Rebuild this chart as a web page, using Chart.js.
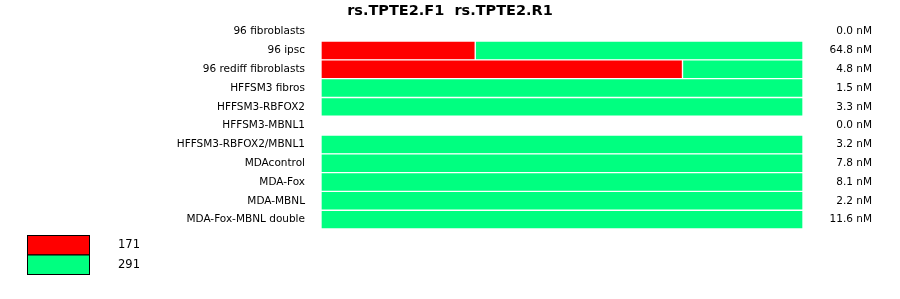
<!DOCTYPE html>
<html>
<head>
<meta charset="utf-8">
<script src="https://cdn.jsdelivr.net/npm/chart.js@4/dist/chart.umd.min.js"></script>
<style>
  html, body { margin: 0; padding: 0; background: #fff; }
  #wrap { width: 900px; height: 299px; }
</style>
</head>
<body>
<div id="wrap"><canvas id="myChart" width="900" height="299"></canvas></div>
<script>
const samples = [
    '96 fibroblasts',
    '96 ipsc',
    '96 rediff fibroblasts',
    'HFFSM3 fibros',
    'HFFSM3-RBFOX2',
    'HFFSM3-MBNL1',
    'HFFSM3-RBFOX2/MBNL1',
    'MDAcontrol',
    'MDA-Fox',
    'MDA-MBNL',
    'MDA-Fox-MBNL double'
];

// percent of reads per sample
const redShare = [0, 32, 75, 0, 0, 0, 0, 0, 0, 0, 0];
const greenShare = [0, 68, 25, 100, 100, 0, 100, 100, 100, 100, 100];

const concLabels = ['0.0 nM', '64.8 nM', '4.8 nM', '1.5 nM', '3.3 nM', '0.0 nM',
    '3.2 nM', '7.8 nM', '8.1 nM', '2.2 nM', '11.6 nM'];

const titleText = 'rs.TPTE2.F1  rs.TPTE2.R1';
const legendColors = ['rgb(255,0,0)', 'rgb(0,255,128)'];
const legendCounts = ['171', '291'];

const fontName = '"DejaVu Sans", sans-serif';

// title centred on the whole image, not the plot
const topTitle = {
    id: 'topTitle',
    afterDraw(chart) {
        const ctx = chart.ctx;
        ctx.save();
        ctx.font = 'bold 14.5px ' + fontName;
        ctx.fillStyle = '#000';
        ctx.textAlign = 'center';
        ctx.textBaseline = 'middle';
        ctx.fillText(titleText, 450, 11);
        ctx.restore();
    }
};

// right column with the nM values
const concPlugin = {
    id: 'concLabels',
    afterDraw(chart) {
        const ctx = chart.ctx;
        const y = chart.scales.y;
        ctx.save();
        ctx.font = '10.5px ' + fontName;
        ctx.fillStyle = '#000';
        ctx.textAlign = 'right';
        ctx.textBaseline = 'middle';
        concLabels.forEach(function (t, i) {
            ctx.fillText(t, 872, y.getPixelForValue(i));
        });
        ctx.restore();
    }
};

// little box legend under the plot
const boxLegend = {
    id: 'boxLegend',
    afterDraw(chart) {
        const ctx = chart.ctx;
        ctx.save();
        ctx.font = '11.5px ' + fontName;
        ctx.textBaseline = 'middle';
        ctx.textAlign = 'left';
        legendColors.forEach(function (c, i) {
            const top = 235.5 + i * 19.5;
            ctx.fillStyle = c;
            ctx.fillRect(27.5, top, 62, 19.5);
            ctx.strokeStyle = '#000';
            ctx.lineWidth = 1;
            ctx.strokeRect(27.5, top, 62, 19.5);
            ctx.fillStyle = '#000';
            ctx.fillText(legendCounts[i], 118, top + 10);
        });
        ctx.restore();
    }
};

const data = {
    labels: samples,
    datasets: [{
            label: 'rs.TPTE2.F1',
            backgroundColor: legendColors[0],
            borderColor: '#fff',
            borderWidth: 1,
            borderSkipped: false,
            data: redShare
        },
        {
            label: 'rs.TPTE2.R1',
            backgroundColor: legendColors[1],
            borderColor: '#fff',
            borderWidth: 1,
            borderSkipped: false,
            data: greenShare
        }
    ]
};

const config = {
    type: 'bar',
    data: data,
    plugins: [topTitle, concPlugin, boxLegend],
    options: {
        indexAxis: 'y',
        responsive: false,
        animation: false,
        barPercentage: 1,
        categoryPercentage: 1,
        layout: {
            padding: { left: 0, right: 97, top: 20, bottom: 70 }
        },
        plugins: {
            legend: { display: false },
            tooltip: { enabled: false },
            title: { display: false }
        },
        scales: {
            x: {
                stacked: true,
                min: 0,
                max: 100,
                display: false
            },
            y: {
                stacked: true,
                grid: { display: false, drawTicks: false },
                border: { display: false },
                afterFit: function (scale) { scale.width = 321; },
                ticks: {
                    color: '#000',
                    padding: 16,
                    font: { family: fontName, size: 10.5 }
                }
            }
        }
    }
};

var myChart = new Chart(document.getElementById('myChart'), config);
</script>
</body>
</html>
